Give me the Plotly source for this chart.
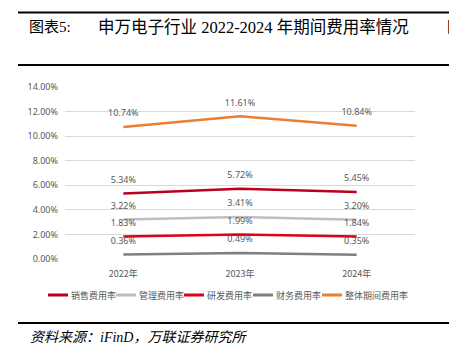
import plotly.graph_objects as go

years = ["2022年", "2023年", "2024年"]
sales = [5.34, 5.72, 5.45]
admin = [3.22, 3.41, 3.20]
rnd = [1.83, 1.99, 1.84]
fin = [0.36, 0.49, 0.35]
total = [10.74, 11.61, 10.84]

names = ["销售费用率", "管理费用率", "研发费用率", "财务费用率", "整体期间费用率"]
series = [sales, admin, rnd, fin, total]
colors = ["#B8001F", "#BFBFBF", "#E0001B", "#7F7F7F", "#ED7D31"]

ytick_vals = [0, 2, 4, 6, 8, 10, 12, 14]
ytick_text = ["0.00%", "2.00%", "4.00%", "6.00%", "8.00%", "10.00%", "12.00%", "14.00%"]

L, R, T, B = 65, 415, 87, 259
W, H = 449, 355
pw, ph = R - L, B - T


def px(x):
    return (x - L) / pw


def py(y):
    return (B - y) / ph


fig = go.Figure()
for name, vals, c in zip(names, series, colors):
    fig.add_trace(go.Scatter(
        x=years, y=vals, name=name, mode="lines+markers+text",
        line=dict(color=c, width=2.5),
        marker=dict(size=12, color="rgba(0,0,0,0)"),
        text=[f"{v:.2f}%" for v in vals],
        textposition="top center",
        textfont=dict(size=9, color="#595959", family="Noto Sans, Liberation Sans, sans-serif"),
        cliponaxis=False, showlegend=False, hoverinfo="skip",
    ))

cjk = "Noto Sans CJK SC"
serif_cjk = "Liberation Serif, Noto Sans CJK SC"

shapes = []
for yy in (12.5, 65, 323):
    shapes.append(dict(type="line", xref="paper", yref="paper",
                       x0=px(18), x1=px(449), y0=py(yy), y1=py(yy),
                       line=dict(color="#000000", width=2)))

annotations = [
    dict(text="图表5:", x=px(27), y=py(27), xref="paper", yref="paper",
         xanchor="left", yanchor="middle", showarrow=False,
         font=dict(size=15, family=serif_cjk, color="#000000")),
    dict(text="申万电子行业\u00a02022-2024\u00a0年期间费用率情况", x=px(96), y=py(27),
         xref="paper", yref="paper", xanchor="left", yanchor="middle", showarrow=False,
         font=dict(size=16.5, family=serif_cjk, color="#000000")),
    dict(text="图", x=px(445), y=py(27), xref="paper", yref="paper",
         xanchor="left", yanchor="middle", showarrow=False,
         font=dict(size=15, family=serif_cjk, color="#000000")),
    dict(text="资料来源：iFinD，万联证券研究所", x=px(28), y=py(337),
         xref="paper", yref="paper", xanchor="left", yanchor="middle", showarrow=False,
         font=dict(size=14, family=serif_cjk, color="#000000", style="italic")),
]

# legend drawn as line samples + labels
legend_line_x = [48, 116, 184, 253, 322]
for name, c, lx in zip(names, colors, legend_line_x):
    shapes.append(dict(type="line", xref="paper", yref="paper",
                       x0=px(lx), x1=px(lx + 20), y0=py(295), y1=py(295),
                       line=dict(color=c, width=3)))
    annotations.append(dict(text=name, x=px(lx + 21), y=py(295), xref="paper", yref="paper",
                            xanchor="left", yanchor="middle", showarrow=False,
                            font=dict(size=9, family=cjk, color="#595959")))

fig.update_layout(
    width=W, height=H,
    margin=dict(l=L, r=W - R, t=T, b=H - B, pad=0, autoexpand=False),
    paper_bgcolor="white", plot_bgcolor="white",
    showlegend=False,
    xaxis=dict(type="category", range=[-0.5, 2.5], showgrid=False, showline=False,
               zeroline=False, ticks="", ticklabelstandoff=8,
               tickfont=dict(size=9, color="#595959", family=cjk)),
    yaxis=dict(range=[0, 14], tickvals=ytick_vals, ticktext=ytick_text,
               showgrid=True, gridcolor="#D9D9D9", gridwidth=1, zeroline=False,
               showline=False, ticks="", ticklabelstandoff=6,
               tickfont=dict(size=9, color="#595959", family="Noto Sans, Liberation Sans, sans-serif")),
    shapes=shapes, annotations=annotations,
)

fig.write_html("out.html", config={"displayModeBar": False},
               post_script="document.body.style.margin='0';document.body.style.overflow='hidden';")
